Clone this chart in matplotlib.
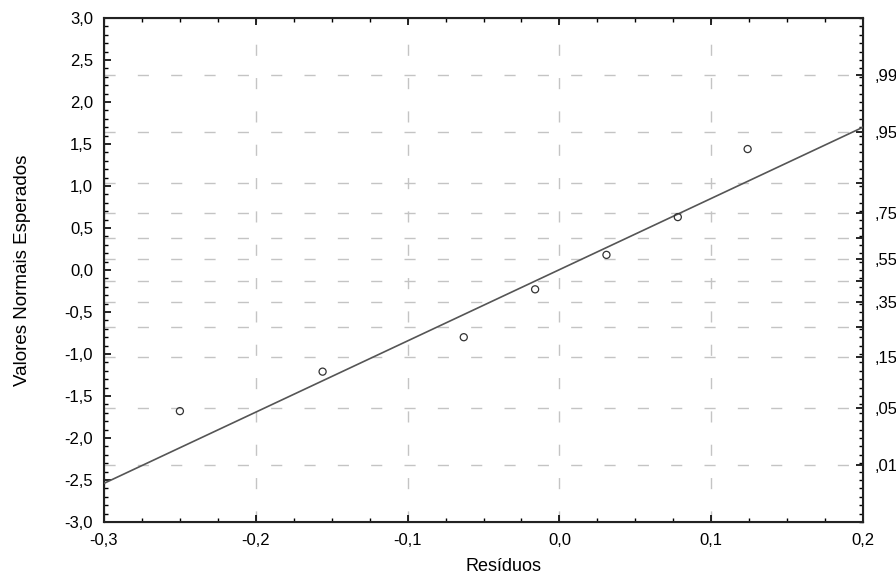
import matplotlib
matplotlib.use('Agg')
import matplotlib.pyplot as plt
from matplotlib.ticker import MultipleLocator, FuncFormatter

# residuals vs expected normal values
residuos = [-0.250, -0.156, -0.063, -0.016, 0.031, 0.078, 0.124]
valores_esperados = [-1.68, -1.21, -0.80, -0.23, 0.18, 0.63, 1.44]

# reference line end points
linha_x = [-0.3, 0.2]
linha_y = [-2.54, 1.70]

# probability scale on the right
prob_z = [-2.326, -1.645, -1.036, -0.674, -0.385, -0.126, 0.126, 0.385, 0.674, 1.036, 1.645, 2.326]
prob_labels = [',01', ',05', ',15', '', ',35', '', ',55', '', ',75', '', ',95', ',99']

plt.rcParams['font.family'] = ['Liberation Sans', 'DejaVu Sans']
comma = FuncFormatter(lambda v, p: f'{v:.1f}'.replace('.', ','))

fig = plt.figure(figsize=(8.96, 5.81), dpi=100)
ax = fig.add_axes([104 / 896, 59 / 581, 759 / 896, 504 / 581])

grid_style = dict(color='#c4c4c4', lw=1.0, linestyle=(0, (8, 16)))

ax.plot(linha_x, linha_y, color='#555555', lw=1.2, zorder=3)
ax.scatter(residuos, valores_esperados, s=26, facecolors='none', edgecolors='#333333',
           linewidths=0.9, zorder=4)

ax.set_xlim(-0.3, 0.2)
ax.set_ylim(-3.0, 3.0)
ax.xaxis.set_major_locator(MultipleLocator(0.1))
ax.xaxis.set_minor_locator(MultipleLocator(0.025))
ax.yaxis.set_major_locator(MultipleLocator(0.5))
ax.yaxis.set_minor_locator(MultipleLocator(0.1))
ax.xaxis.set_major_formatter(comma)
ax.yaxis.set_major_formatter(comma)
ax.tick_params(which='both', direction='in', top=True, labelsize=12, colors='black')
ax.tick_params(which='major', length=5, width=1.2, pad=8)
ax.tick_params(which='minor', length=3, width=1.0)
ax.grid(axis='x', which='major', **grid_style)

for s in ax.spines.values():
    s.set_linewidth(1.5)
    s.set_color('#222222')

ax2 = ax.twinx()
ax2.set_ylim(-3.0, 3.0)
ax2.set_yticks(prob_z)
ax2.set_yticklabels(prob_labels)
ax2.yaxis.set_minor_locator(MultipleLocator(0.1))
ax2.tick_params(which='both', direction='in', labelsize=12, pad=8)
ax2.tick_params(which='major', length=5, width=1.2)
ax2.tick_params(which='minor', length=3, width=1.0)
ax2.grid(axis='y', which='major', **grid_style)
ax2.set_zorder(0)
ax.set_zorder(1)
ax.patch.set_visible(False)

ax.set_xlabel('Resíduos', fontsize=13)
ax.xaxis.set_label_coords(0.527, -0.072)
ax.set_ylabel('Valores Normais Esperados', fontsize=13.5, labelpad=24)

fig.savefig('out.png', dpi=100)
